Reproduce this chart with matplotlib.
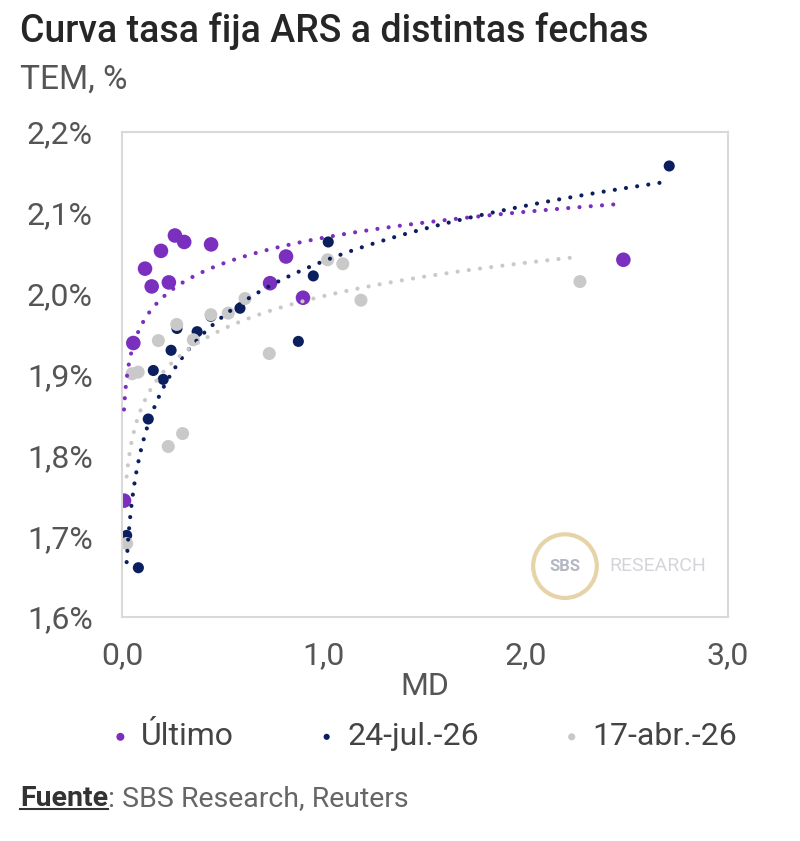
import numpy as np
import matplotlib
matplotlib.use("Agg")
import matplotlib.pyplot as plt
from matplotlib.lines import Line2D

plt.rcParams["font.family"] = ["Roboto", "DejaVu Sans"]

# MD (years) vs TEM (%)
ultimo_md = [0.01, 0.056, 0.114, 0.147, 0.193, 0.232, 0.262, 0.308, 0.441,
             0.733, 0.812, 0.896, 2.482]
ultimo_tem = [1.744, 1.939, 2.031, 2.009, 2.053, 2.014, 2.072, 2.064, 2.061,
              2.013, 2.046, 1.995, 2.042]

jul_md = [0.023, 0.081, 0.130, 0.155, 0.204, 0.243, 0.272, 0.372, 0.44,
          0.584, 0.873, 0.947, 1.021, 2.709]
jul_tem = [1.701, 1.661, 1.845, 1.905, 1.894, 1.930, 1.957, 1.953, 1.972,
           1.982, 1.941, 2.022, 2.064, 2.158]

abr_md = [0.023, 0.05, 0.08, 0.18, 0.229, 0.271, 0.300, 0.353, 0.44, 0.526,
          0.609, 0.729, 1.018, 1.093, 1.183, 2.267]
abr_tem = [1.691, 1.901, 1.903, 1.942, 1.811, 1.962, 1.827, 1.943, 1.974,
           1.976, 1.994, 1.926, 2.042, 2.037, 1.992, 2.015]

series = [
    ("Último", ultimo_md, ultimo_tem, "#7B2FBE", 110),
    ("24-jul.-26", jul_md, jul_tem, "#0B1F5E", 64),
    ("17-abr.-26", abr_md, abr_tem, "#C9C9C9", 88),
]

fig = plt.figure(figsize=(8, 8.41), dpi=100)
ax = fig.add_axes([0.1525, 0.2663, 0.7575, 0.5767])

for name, md, tem, color, size in series:
    ax.scatter(md, tem, s=size, color=color, edgecolors="none", zorder=2,
               label=name)

# logarithmic trendlines (Excel-style), fitted on the series above
for name, md, tem, color, size in series:
    md = np.asarray(md)
    b, a = np.polyfit(np.log(md), tem, 1)
    xs = np.linspace(md.min(), md.max(), 400)
    ax.plot(xs, a + b * np.log(xs), color=color, lw=3.0,
            ls=(0, (0.01, 2.7)), dash_capstyle="round", zorder=3)

ax.set_xlim(0, 3)
ax.set_ylim(1.6, 2.2)
ax.set_xticks([0, 1, 2, 3])
ax.set_xticklabels(["0,0", "1,0", "2,0", "3,0"])
ax.set_yticks(np.arange(1.6, 2.21, 0.1))
ax.set_yticklabels(["1,6%", "1,7%", "1,8%", "1,9%", "2,0%", "2,1%", "2,2%"])
ax.tick_params(length=0, labelsize=23, labelcolor="#555555")
ax.tick_params(axis="y", pad=21)
ax.tick_params(axis="x", pad=17)
for s in ax.spines.values():
    s.set_color("#D9D9D9")
    s.set_linewidth(1.5)
ax.set_xlabel("MD", fontsize=23, color="#555555", labelpad=2)

# watermark
ax.scatter([0.731], [0.105], s=2100, transform=ax.transAxes,
           facecolors="none", edgecolors="#E6D3A8", linewidths=3, zorder=1)
ax.text(0.731, 0.105, "SBS", transform=ax.transAxes, ha="center",
        va="center", fontsize=12, color="#B3B7C2", fontweight="bold")
ax.text(0.805, 0.105, "RESEARCH", transform=ax.transAxes, ha="left",
        va="center", fontsize=14, color="#D3D5DA")

fig.text(0.025, 0.963, "Curva tasa fija ARS a distintas fechas",
         fontsize=27, color="#262626", fontweight="medium", va="center")
fig.text(0.025, 0.905, "TEM, %", fontsize=24, color="#555555", va="center")

fig.legend(loc="center", bbox_to_anchor=(0.53, 0.124), ncol=3,
           frameon=False, fontsize=23, handlelength=0.6, handletextpad=0.35,
           columnspacing=2.6, markerscale=0.55, labelcolor="#444444")

# footer with underlined "Fuente"
y_foot = 0.0416
t1 = fig.text(0.025, y_foot, "Fuente", fontsize=20.5, color="#333333",
              fontweight="bold", va="baseline")
fig.canvas.draw()
bb = t1.get_window_extent().transformed(fig.transFigure.inverted())
fig.add_artist(Line2D([bb.x0, bb.x1], [y_foot - 0.004, y_foot - 0.004],
                      color="#333333", lw=1.5))
fig.text(bb.x1, y_foot, ": SBS Research, Reuters", fontsize=20.5,
         color="#666666", va="baseline")

fig.savefig("out.png", dpi=100)
